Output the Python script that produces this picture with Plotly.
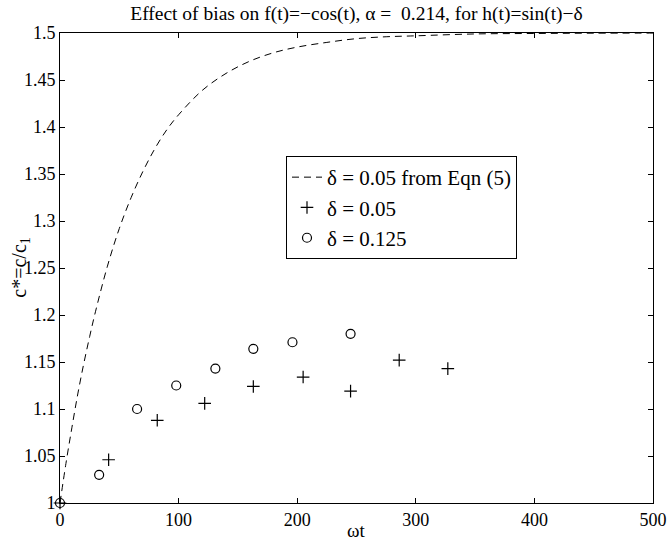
import plotly.graph_objects as go

# Dashed curve (delta = 0.05 from Eqn (5))
curve_x = [0, 5, 10, 15, 20, 25, 30, 40, 50, 60, 70, 80, 90, 100, 120, 140,
           160, 180, 200, 225, 250, 275, 300, 350, 400, 450, 500]
curve_y = [1.0, 1.042, 1.080, 1.116, 1.148, 1.177, 1.204, 1.252, 1.292, 1.325,
           1.353, 1.377, 1.397, 1.413, 1.439, 1.457, 1.470, 1.479, 1.485, 1.490,
           1.494, 1.496, 1.497, 1.499, 1.4995, 1.4998, 1.4999]

# delta = 0.05 (plus markers)
plus_x = [0, 41, 82, 122, 163, 205, 245, 286, 327]
plus_y = [1.0, 1.046, 1.088, 1.106, 1.124, 1.134, 1.119, 1.152, 1.143]

# delta = 0.125 (circle markers)
circ_x = [0, 33, 65, 98, 131, 163, 196, 245]
circ_y = [1.0, 1.030, 1.100, 1.125, 1.143, 1.164, 1.171, 1.180]

x_ticks = [0, 100, 200, 300, 400, 500]
x_ticklabels = ["0", "100", "200", "300", "400", "500"]
y_ticks = [1.0, 1.05, 1.1, 1.15, 1.2, 1.25, 1.3, 1.35, 1.4, 1.45, 1.5]
y_ticklabels = ["1", "1.05", "1.1", "1.15", "1.2", "1.25", "1.3", "1.35", "1.4", "1.45", "1.5"]

FONT = "Liberation Serif, Times New Roman, serif"

fig = go.Figure()
fig.add_trace(go.Scatter(
    x=curve_x, y=curve_y, mode="lines", name="δ = 0.05 from Eqn (5)",
    line=dict(color="black", width=1, dash="7px,5px", shape="spline"),
    cliponaxis=False))
fig.add_trace(go.Scatter(
    x=plus_x, y=plus_y, mode="markers", name="δ = 0.05",
    marker=dict(symbol="cross-thin-open", size=9, color="black",
                line=dict(color="black", width=1.2)),
    cliponaxis=False))
fig.add_trace(go.Scatter(
    x=circ_x, y=circ_y, mode="markers", name="δ = 0.125",
    marker=dict(symbol="circle-open", size=9, color="black",
                line=dict(color="black", width=1.2)),
    cliponaxis=False))

axis_common = dict(showline=True, linecolor="black", linewidth=1, mirror="ticks",
                   ticks="inside", ticklen=5, tickcolor="black", showgrid=False,
                   zeroline=False, automargin=False,
                   tickfont=dict(family=FONT, size=18, color="black"))

fig.update_layout(
    width=671, height=544,
    margin=dict(l=60, r=18, t=33, b=41),
    paper_bgcolor="white", plot_bgcolor="white",
    font=dict(family=FONT, color="black"),
    title=dict(text="Effect of bias on f(t)=−cos(t), α =  0.214, for h(t)=sin(t)−δ",
               x=(60 + 653) / 2 / 671, xanchor="center", y=1 - 13 / 544, yanchor="middle",
               font=dict(family=FONT, size=19.5, color="black")),
    xaxis=dict(range=[0, 500], tickvals=x_ticks, ticktext=x_ticklabels, **axis_common),
    yaxis=dict(range=[1, 1.5], tickvals=y_ticks, ticktext=y_ticklabels, **axis_common),
    showlegend=True,
    legend=dict(x=(286 - 60) / 593, y=(503 - 156) / 470, xanchor="left", yanchor="top",
                bordercolor="black", borderwidth=1, bgcolor="white",
                font=dict(family=FONT, size=21, color="black"),
                tracegroupgap=0, itemwidth=30),
    annotations=[
        dict(text="ωt", xref="paper", yref="paper", x=0.5, y=-27 / 470,
             xanchor="center", yanchor="middle", showarrow=False,
             font=dict(family=FONT, size=19, color="black")),
        dict(text="c*=c/c<sub>1</sub>", xref="paper", yref="paper", x=-0.068, y=0.5,
             xanchor="center", yanchor="middle", textangle=-90, showarrow=False,
             font=dict(family=FONT, size=20, color="black")),
    ],
)

fig.write_html("out.html")
